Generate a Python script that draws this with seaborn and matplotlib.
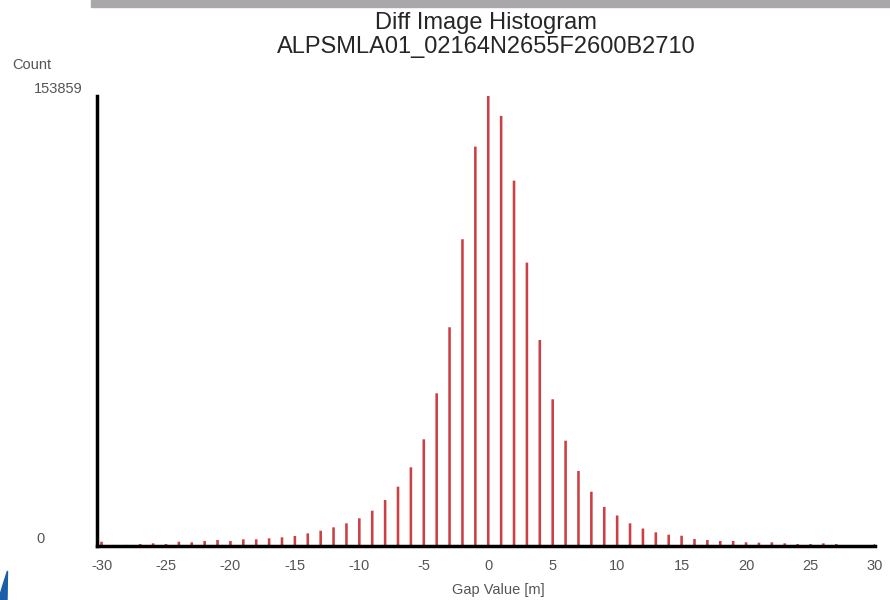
import matplotlib
matplotlib.use("Agg")
from matplotlib import pyplot as plt
from matplotlib.patches import Rectangle, Polygon
from matplotlib import transforms
import seaborn as sns

# Gap value bins (m) and pixel counts
gap_values = list(range(-30, 31))
counts = [
    1300, 200, 200, 510, 750, 510, 1300, 1100, 1540, 1880,      # -30 .. -21
    1540, 2120, 2120, 2460, 2800, 3250, 4170, 5060, 6220, 7590,  # -20 .. -11
    9300, 11900, 15560, 20110, 26740, 36320, 52050, 74620, 104720, 136400,  # -10 .. -1
    153859,                                                      # 0
    146890, 124760, 96720, 70280, 50000, 35840, 25480, 18400, 13200, 10260,  # 1 .. 10
    7590, 5810, 4510, 3690, 3350, 2220, 1880, 1540, 1540, 1100,  # 11 .. 20
    960, 1100, 750, 510, 510, 750, 510, 170, 100, 510,           # 21 .. 30
]
y_max = 153859
x_ticks = list(range(-30, 31, 5))

title_1 = "Diff Image Histogram"
title_2 = "ALPSMLA01_02164N2655F2600B2710"

sns.set_style("white")
plt.rcParams["font.family"] = ["Liberation Sans", "DejaVu Sans"]

fig = plt.figure(figsize=(8.9, 6), dpi=100)
ax = fig.add_axes([0.109, 0.0908, 0.8741, 0.75])

sns.barplot(x=gap_values, y=counts, native_scale=True, width=0.2,
            color="#cc3f42", saturation=1, linewidth=0, ax=ax)
# keep every bar the same thickness instead of snapping to whole pixels
for bar in ax.patches:
    bar.set_snap(False)

ax.set_xlim(-30.35, 30)
ax.set_ylim(0, y_max)

for side in ["top", "right"]:
    ax.spines[side].set_visible(False)
for side in ["left", "bottom"]:
    ax.spines[side].set_color("black")
    ax.spines[side].set_linewidth(2.5)

ax.set_xticks(x_ticks)
ax.set_xticklabels([str(v) for v in x_ticks])
ax.tick_params(axis="x", direction="out", length=4, width=2.5, color="black",
               labelsize=10.5, labelcolor="#555555", pad=6)
ax.set_yticks([0, y_max])
ax.set_yticklabels(["", ""])
ax.tick_params(axis="y", direction="out", length=5, width=2, color="black")

# y labels sit off to the left, like the original screenshot
trans = transforms.blended_transform_factory(fig.transFigure, ax.transData)
ax.text(45 / 890, 0, "0", transform=trans, ha="right", va="bottom",
        fontsize=10.5, color="#555555")
ax.text(83 / 890, y_max, "153859", transform=trans, ha="right", va="bottom",
        fontsize=10.5, color="#555555")
fig.text(12 / 890, 1 - 65 / 600, "Count", ha="left", va="center",
         fontsize=10.5, color="#555555")

ax.set_xlabel("Gap Value [m]", fontsize=10.5, color="#555555", va="center")
ax.xaxis.set_label_coords((498 - 97) / 778, -0.099)
ax.set_ylabel("")

fig.text(486 / 890, 1 - 23 / 600, title_1, ha="center", va="center", fontsize=17)
fig.text(486 / 890, 1 - 47 / 600, title_2, ha="center", va="center", fontsize=17)

# slide decorations: grey strip on top and blue sliver bottom-left
fig.patches.append(Rectangle((91 / 890, 1 - 7 / 600), 1, 7 / 600,
                             transform=fig.transFigure, color="#a9a7a9", zorder=0))
pts = [(0, 600), (7, 600), (7.5, 571), (3, 585), (0, 595)]
fig.patches.append(Polygon([(x / 890, 1 - y / 600) for x, y in pts], closed=True,
                           transform=fig.transFigure, color="#1a5ea8", zorder=0))

fig.savefig("out.png", dpi=100)
